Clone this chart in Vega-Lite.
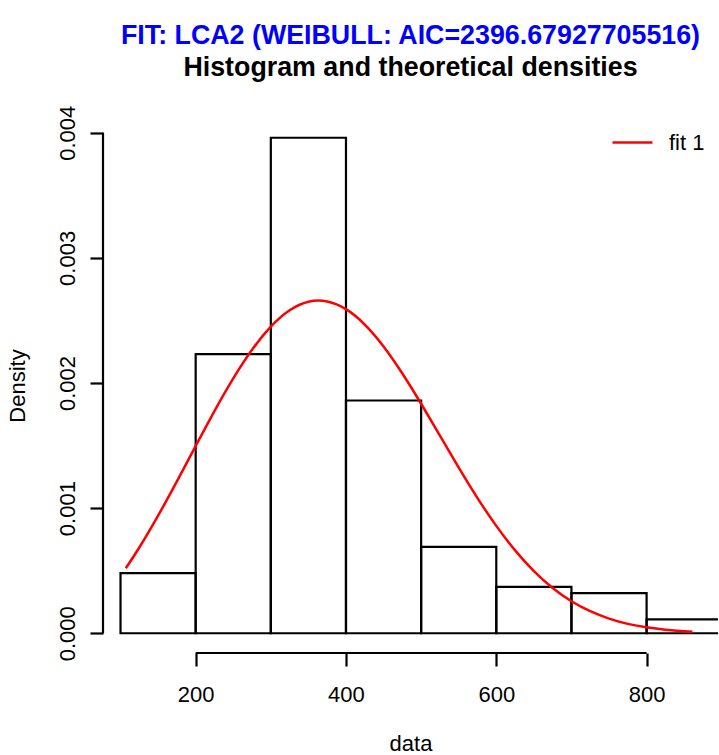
{
  "$schema": "https://vega.github.io/schema/vega-lite/v6.json",
  "width": 615,
  "height": 535,
  "autosize": {"type": "none"},
  "padding": {"left": 103, "top": 118, "right": 1, "bottom": 102},
  "background": "white",
  "config": {"view": {"stroke": null}, "font": "Liberation Sans"},
  "title": {
    "text": "FIT: LCA2 (WEIBULL: AIC=2396.67927705516)",
    "subtitle": "Histogram and theoretical densities",
    "color": "#0000ff",
    "subtitleColor": "#000000",
    "fontSize": 26.8,
    "subtitleFontSize": 26.8,
    "font": "Liberation Sans",
    "subtitleFont": "Liberation Sans",
    "fontWeight": "bold",
    "subtitleFontWeight": "bold",
    "anchor": "middle",
    "offset": 23,
    "subtitlePadding": 6
  },
  "datasets": {
    "bins": [
      {"start": 100, "end": 200, "density": 0.00048},
      {"start": 200, "end": 300, "density": 0.00223},
      {"start": 300, "end": 400, "density": 0.00396},
      {"start": 400, "end": 500, "density": 0.00186},
      {"start": 500, "end": 600, "density": 0.00069},
      {"start": 600, "end": 700, "density": 0.00037},
      {"start": 700, "end": 800, "density": 0.00032},
      {"start": 800, "end": 900, "density": 0.00011}
    ],
    "curve": [
      {"x": 107, "y": 0.000520},
      {"x": 125, "y": 0.000685},
      {"x": 150, "y": 0.000940},
      {"x": 175, "y": 0.001214},
      {"x": 200, "y": 0.001497},
      {"x": 225, "y": 0.001776},
      {"x": 250, "y": 0.002037},
      {"x": 275, "y": 0.002266},
      {"x": 300, "y": 0.002451},
      {"x": 325, "y": 0.002582},
      {"x": 350, "y": 0.002650},
      {"x": 375, "y": 0.002652},
      {"x": 400, "y": 0.002590},
      {"x": 425, "y": 0.002467},
      {"x": 450, "y": 0.002292},
      {"x": 475, "y": 0.002076},
      {"x": 500, "y": 0.001834},
      {"x": 525, "y": 0.001579},
      {"x": 550, "y": 0.001323},
      {"x": 575, "y": 0.001080},
      {"x": 600, "y": 0.000858},
      {"x": 625, "y": 0.000662},
      {"x": 650, "y": 0.000497},
      {"x": 675, "y": 0.000362},
      {"x": 700, "y": 0.000256},
      {"x": 725, "y": 0.000176},
      {"x": 750, "y": 0.000117},
      {"x": 775, "y": 0.000075},
      {"x": 800, "y": 0.000047},
      {"x": 825, "y": 0.000028},
      {"x": 850, "y": 0.000016},
      {"x": 861, "y": 0.000012}
    ],
    "xline": [{"a": 200, "b": 800, "pos": -0.000158}],
    "yline": [{"a": 0, "b": 0.004, "pos": 76.7}]
  },
  "resolve": {"scale": {"x": "shared", "y": "shared"}},
  "layer": [
    {
      "data": {"name": "bins"},
      "mark": {"type": "rect", "clip": true, "fill": "white", "fillOpacity": 0, "stroke": "black", "strokeWidth": 2.2},
      "encoding": {
        "x": {
          "field": "start",
          "type": "quantitative",
          "scale": {"domain": [76.7, 895], "nice": false, "zero": false},
          "axis": {
            "values": [200, 400, 600, 800],
            "domain": false,
            "grid": false,
            "tickSize": 13,
            "tickWidth": 2.2,
            "tickColor": "black",
            "labelFontSize": 22,
            "labelFont": "Liberation Sans",
            "labelColor": "black",
            "labelBaseline": "alphabetic",
            "labelPadding": 35,
            "labelFlush": false,
            "labelOverlap": false,
            "title": "data",
            "titleFont": "Liberation Sans",
            "titleFontSize": 22,
            "titleFontWeight": "normal",
            "titleColor": "black",
            "titleBaseline": "alphabetic",
            "titleY": 97
          }
        },
        "x2": {"field": "end"},
        "y": {
          "field": "density",
          "type": "quantitative",
          "scale": {"domain": [-0.000158, 0.004118], "nice": false, "zero": false},
          "axis": {
            "values": [0, 0.001, 0.002, 0.003, 0.004],
            "format": ".3f",
            "domain": false,
            "grid": false,
            "tickSize": 13,
            "tickWidth": 2.2,
            "tickColor": "black",
            "labelFontSize": 22,
            "labelFont": "Liberation Sans",
            "labelColor": "black",
            "labelAngle": 270,
            "labelAlign": "center",
            "labelBaseline": "alphabetic",
            "labelPadding": 16,
            "labelFlush": false,
            "labelOverlap": false,
            "title": "Density",
            "titleFont": "Liberation Sans",
            "titleFontSize": 22,
            "titleFontWeight": "normal",
            "titleColor": "black",
            "titleAngle": 270,
            "titleAlign": "center",
            "titleBaseline": "alphabetic",
            "titleX": -79,
            "titleY": 267.5
          }
        },
        "y2": {"datum": 0}
      }
    },
    {
      "data": {"name": "xline"},
      "mark": {"type": "rule", "stroke": "black", "strokeWidth": 2.2},
      "encoding": {
        "x": {"field": "a", "type": "quantitative"},
        "x2": {"field": "b"},
        "y": {"field": "pos", "type": "quantitative"}
      }
    },
    {
      "data": {"name": "yline"},
      "mark": {"type": "rule", "stroke": "black", "strokeWidth": 2.2},
      "encoding": {
        "x": {"field": "pos", "type": "quantitative"},
        "y": {"field": "a", "type": "quantitative"},
        "y2": {"field": "b"}
      }
    },
    {
      "data": {"name": "curve"},
      "mark": {"type": "line", "strokeWidth": 2.5, "interpolate": "natural", "clip": true},
      "encoding": {
        "x": {"field": "x", "type": "quantitative"},
        "y": {"field": "y", "type": "quantitative"},
        "color": {
          "datum": "fit 1",
          "type": "nominal",
          "scale": {"range": ["#ff0000"]},
          "legend": {
            "title": null,
            "orient": "none",
            "legendX": 508,
            "legendY": 3,
            "padding": 0,
            "symbolType": "stroke",
            "symbolSize": 1600,
            "symbolStrokeWidth": 2.5,
            "labelFontSize": 22,
            "labelFont": "Liberation Sans",
            "labelColor": "black",
            "labelOffset": 15
          }
        }
      }
    }
  ]
}
